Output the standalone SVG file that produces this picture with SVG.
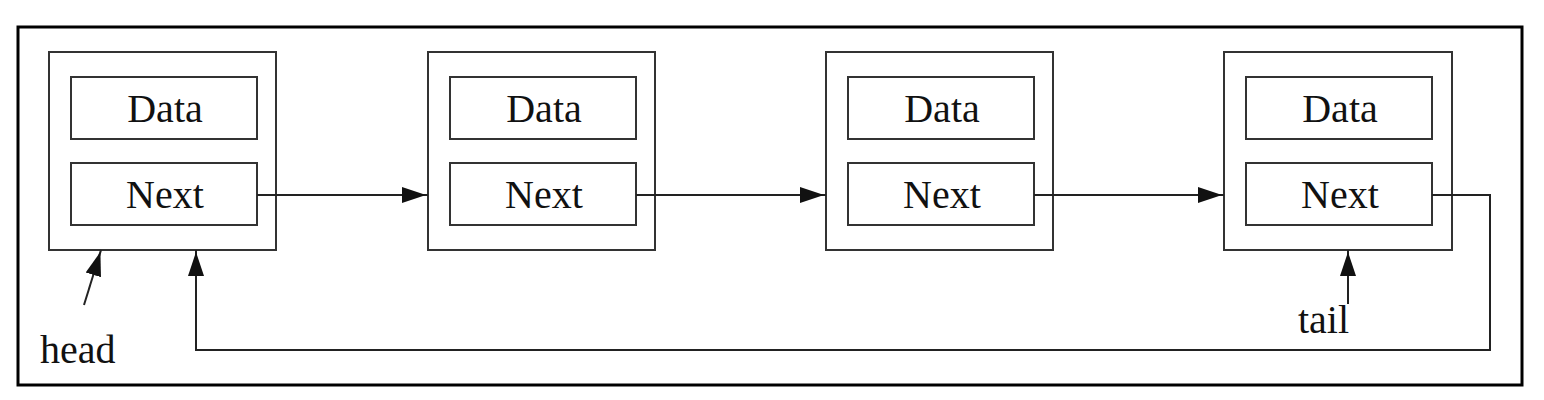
<svg xmlns="http://www.w3.org/2000/svg" width="1544" height="400" viewBox="0 0 1544 400">
<style>
.box{fill:#fff;stroke:#333;stroke-width:2}
.t{font-family:"Liberation Serif","Times New Roman",serif;font-size:40px;fill:#111;text-anchor:middle}
.l{font-family:"Liberation Serif","Times New Roman",serif;font-size:40px;fill:#111}
.c{fill:none;stroke:#222;stroke-width:2}
</style>
<defs>
<marker id="ah" markerWidth="26" markerHeight="18" refX="26" refY="9" orient="auto" markerUnits="userSpaceOnUse">
<path d="M0,1 L24,9 L0,17 Z" fill="#111"/>
</marker>
</defs>
<rect width="1544" height="400" fill="#fff"/>
<rect x="18" y="27" width="1504" height="358" fill="none" stroke="#000" stroke-width="3"/>
<g id="node1">
<rect class="box" x="49" y="52" width="227" height="198"/>
<rect class="box" x="71" y="77" width="186" height="62"/>
<rect class="box" x="71" y="163" width="186" height="62"/>
<text class="t" x="165" y="122">Data</text>
<text class="t" x="165" y="208">Next</text>
</g>
<g id="node2">
<rect class="box" x="428" y="52" width="227" height="198"/>
<rect class="box" x="450" y="77" width="186" height="62"/>
<rect class="box" x="450" y="163" width="186" height="62"/>
<text class="t" x="544" y="122">Data</text>
<text class="t" x="544" y="208">Next</text>
</g>
<g id="node3">
<rect class="box" x="826" y="52" width="227" height="198"/>
<rect class="box" x="848" y="77" width="186" height="62"/>
<rect class="box" x="848" y="163" width="186" height="62"/>
<text class="t" x="942" y="122">Data</text>
<text class="t" x="942" y="208">Next</text>
</g>
<g id="node4">
<rect class="box" x="1224" y="52" width="228" height="198"/>
<rect class="box" x="1246" y="77" width="186" height="62"/>
<rect class="box" x="1246" y="163" width="186" height="62"/>
<text class="t" x="1340" y="122">Data</text>
<text class="t" x="1340" y="208">Next</text>
</g>
<g id="head">
<text class="l" x="40" y="363">head</text>
</g>
<g id="tail">
<text class="l" x="1298" y="333">tail</text>
</g>
<g id="connectors">
<line class="c" x1="257" y1="195" x2="428" y2="195" marker-end="url(#ah)"/>
<line class="c" x1="636" y1="195" x2="826" y2="195" marker-end="url(#ah)"/>
<line class="c" x1="1034" y1="195" x2="1224" y2="195" marker-end="url(#ah)"/>
<polyline class="c" points="1432,195 1490,195 1490,350 196,350 196,250" marker-end="url(#ah)"/>
<line class="c" x1="84" y1="305" x2="101" y2="250" marker-end="url(#ah)"/>
<line class="c" x1="1348" y1="304" x2="1348" y2="250" marker-end="url(#ah)"/>
</g>
</svg>
